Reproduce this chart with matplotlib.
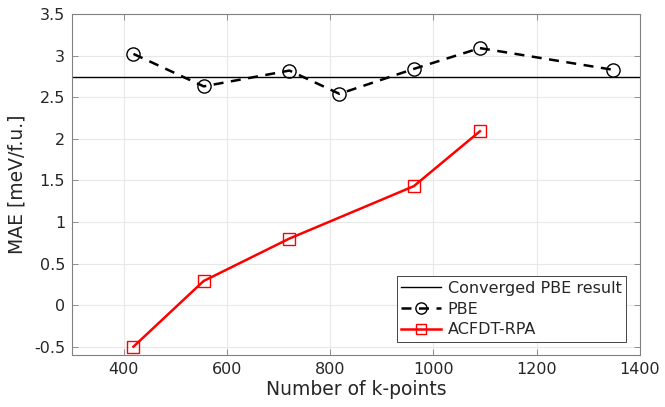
import numpy as np
import matplotlib
matplotlib.use('Agg')
import matplotlib.pyplot as plt

# Data
pbe_k = [419, 555, 721, 818, 962, 1090, 1347]
pbe_mae = [3.02, 2.63, 2.82, 2.54, 2.84, 3.09, 2.83]
rpa_k = [419, 555, 721, 962, 1090]
rpa_mae = [-0.50, 0.29, 0.80, 1.43, 2.09]
converged_pbe = 2.74

xticks = [400, 600, 800, 1000, 1200, 1400]
yticks = [-0.5, 0, 0.5, 1, 1.5, 2, 2.5, 3, 3.5]
ytick_labels = ['-0.5', '0', '0.5', '1', '1.5', '2', '2.5', '3', '3.5']

text_col = '#262626'
plt.rcParams['font.family'] = 'DejaVu Sans'

fig = plt.figure(figsize=(6.65, 4.07), dpi=100)
ax = fig.add_axes([72 / 665, 1 - 355 / 407, (640 - 72) / 665, (355 - 14) / 407])

ax.axhline(converged_pbe, color='black', lw=1.0, label='Converged PBE result')
ax.plot(pbe_k, pbe_mae, color='black', ls=(0, (4, 3)), lw=1.8, marker='o',
        ms=9.5, mfc='none', mec='black', mew=1.0, label='PBE')
ax.plot(rpa_k, rpa_mae, color='red', lw=1.8, marker='s',
        ms=8, mfc='none', mec='red', mew=1.0, label='ACFDT-RPA')

ax.set_xlim(300, 1400)
ax.set_ylim(-0.6, 3.5)
ax.set_xticks(xticks)
ax.set_yticks(yticks)
ax.set_yticklabels(ytick_labels)
ax.grid(True, color='#e8e8e8', lw=0.8)
ax.set_axisbelow(True)
for s in ax.spines.values():
    s.set_color('#808080')
    s.set_linewidth(0.8)
ax.tick_params(direction='in', length=4, width=0.6, color='#808080',
               labelsize=11.5, labelcolor=text_col, top=True, right=True, pad=5)

ax.set_xlabel('Number of k-points', fontsize=13.5, color=text_col, labelpad=2)
ax.set_ylabel('MAE [meV/f.u.]', fontsize=13.5, color=text_col, labelpad=5)

leg = ax.legend(loc='lower right', fontsize=11.5, fancybox=False,
                edgecolor='#262626', framealpha=1, borderpad=0.3,
                labelspacing=0.35, handlelength=2.5, handletextpad=0.4,
                markerscale=0.85, bbox_to_anchor=(0.99, 0.015))
leg.get_frame().set_linewidth(0.6)
for t in leg.get_texts():
    t.set_color(text_col)

fig.savefig('out.png', dpi=100)
